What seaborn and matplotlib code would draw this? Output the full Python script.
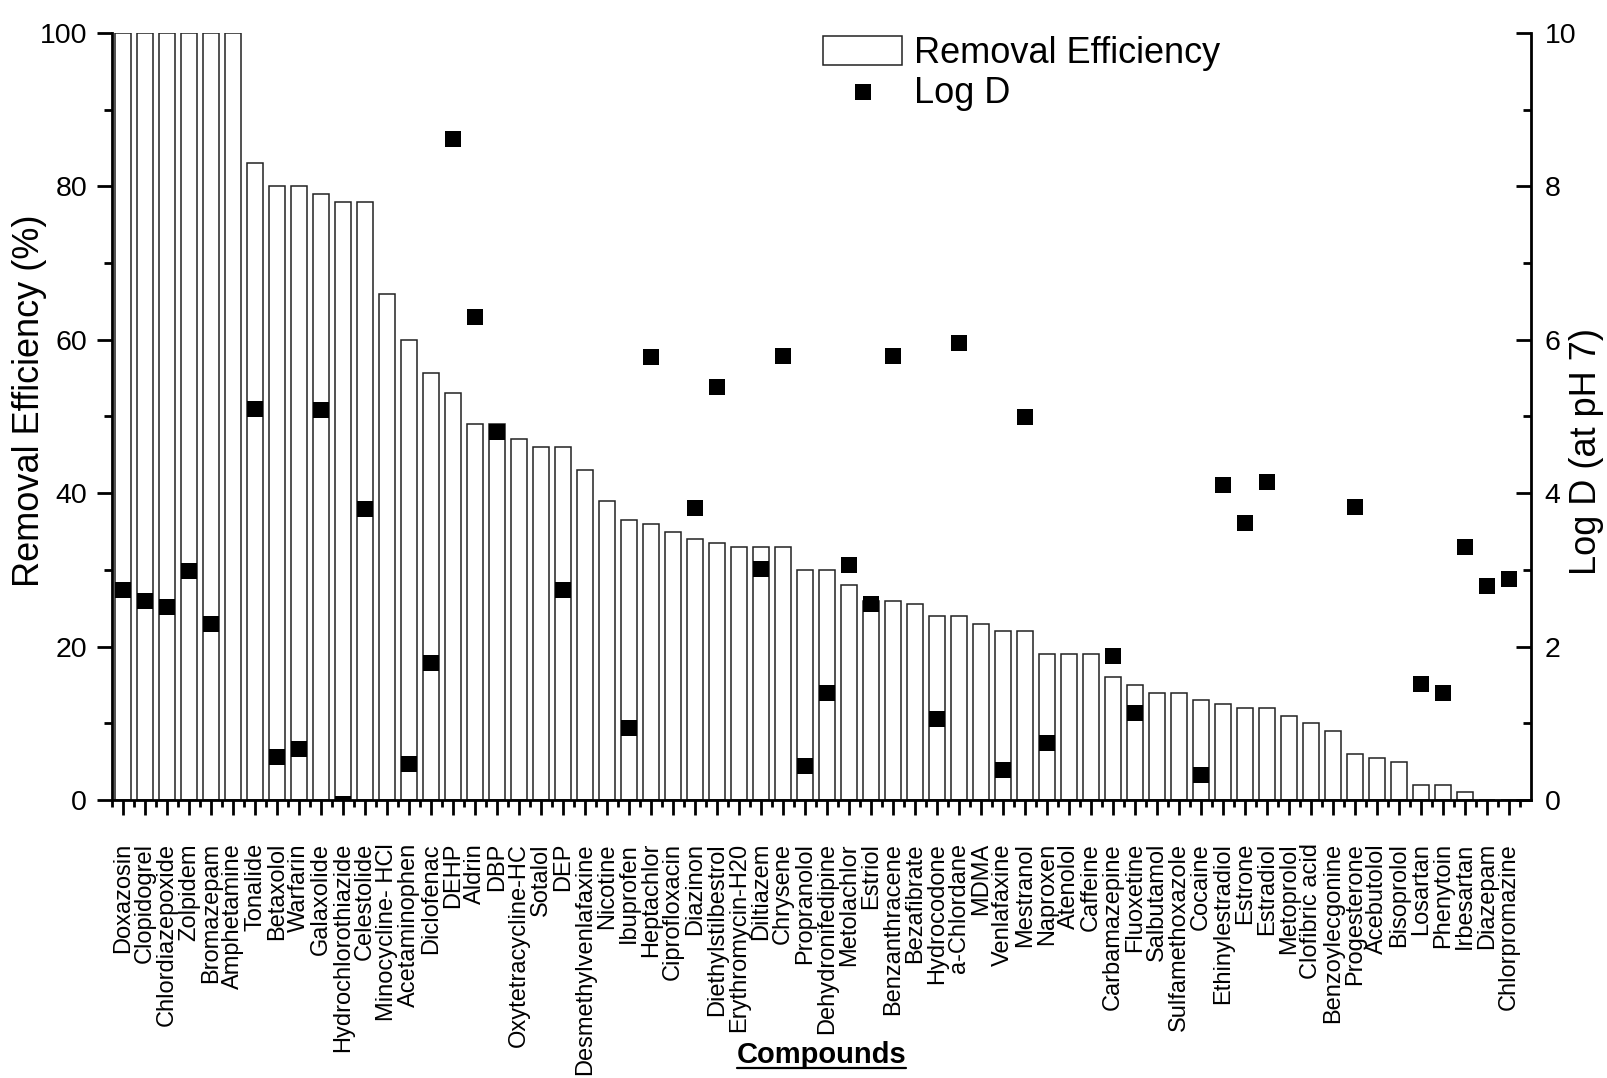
import numpy as np
import pandas as pd
import matplotlib
matplotlib.use("Agg")
import matplotlib.pyplot as plt
from matplotlib.ticker import MultipleLocator, FixedLocator, FixedFormatter
from matplotlib.lines import Line2D
import seaborn as sns

# ---- data ----
compounds = [
    'Doxazosin', 'Clopidogrel', 'Chlordiazepoxide', 'Zolpidem', 'Bromazepam',
    'Amphetamine', 'Tonalide', 'Betaxolol', 'Warfarin', 'Galaxolide',
    'Hydrochlorothiazide', 'Celestolide', 'Minocycline- HCl', 'Acetaminophen',
    'Diclofenac', 'DEHP', 'Aldrin', 'DBP', 'Oxytetracycline-HC', 'Sotalol',
    'DEP', 'Desmethylvenlafaxine', 'Nicotine', 'Ibuprofen', 'Heptachlor',
    'Ciprofloxacin', 'Diazinon', 'Diethylstilbestrol', 'Erythromycin-H20',
    'Diltiazem', 'Chrysene', 'Propranolol', 'Dehydronifedipine', 'Metolachlor',
    'Estriol', 'Benzanthracene', 'Bezafibrate', 'Hydrocodone', 'a-Chlordane',
    'MDMA', 'Venlafaxine', 'Mestranol', 'Naproxen', 'Atenolol', 'Caffeine',
    'Carbamazepine', 'Fluoxetine', 'Salbutamol', 'Sulfamethoxazole', 'Cocaine',
    'Ethinylestradiol', 'Estrone', 'Estradiol', 'Metoprolol', 'Clofibric acid',
    'Benzoylecgonine', 'Progesterone', 'Acebutolol', 'Bisoprolol', 'Losartan',
    'Phenytoin', 'Irbesartan', 'Diazepam', 'Chlorpromazine',
]

removal_pct = [
    100, 100, 100, 100, 100, 100, 83, 80, 80, 79,
    78, 78, 66, 60, 55.7, 53, 49, 49, 47, 46,
    46, 43, 39, 36.5, 36, 35, 34, 33.5, 33, 33,
    33, 30, 30, 28, 26, 26, 25.5, 24, 24, 23,
    22, 22, 19, 19, 19, 16, 15, 14, 14, 13,
    12.5, 12, 12, 11, 10, 9, 6, 5.5, 5, 2,
    2, 1, 0, 0,
]

nan = np.nan
log_d = [
    2.74, 2.60, 2.51, 2.98, 2.30, nan, 5.10, 0.56, 0.67, 5.08,
    -0.05, 3.79, nan, 0.47, 1.78, 8.62, 6.30, 4.80, nan, nan,
    2.74, nan, nan, 0.94, 5.78, nan, 3.81, 5.39, nan, 3.01,
    5.79, 0.44, 1.40, 3.06, 2.55, 5.79, nan, 1.06, 5.96, nan,
    0.39, 4.99, 0.74, nan, nan, 1.88, 1.14, nan, nan, 0.32,
    4.11, 3.61, 4.15, nan, nan, nan, 3.82, nan, nan, 1.51,
    1.40, 3.30, 2.79, 2.88,
]

df = pd.DataFrame({'compound': compounds, 'removal': removal_pct, 'log_d': log_d})

sns.set_theme(style="ticks")
plt.rcParams['font.family'] = ['Liberation Sans', 'DejaVu Sans']
for key in ['text.color', 'axes.labelcolor', 'xtick.color', 'ytick.color', 'axes.edgecolor']:
    plt.rcParams[key] = 'black'

fig, ax = plt.subplots(figsize=(16.08, 10.78), dpi=100)
fig.subplots_adjust(left=0.0697, right=0.9521, bottom=0.2579, top=0.9694)

# bars: removal efficiency
sns.barplot(data=df, x='compound', y='removal', order=compounds, color='white',
            saturation=1, edgecolor='#222222', linewidth=1.1, width=0.76,
            errorbar=None, label='Removal Efficiency', ax=ax)

# squares: log D on the right axis
ax2 = ax.twinx()
sns.scatterplot(data=df, x='compound', y='log_d', marker='s', s=117, color='black',
                edgecolor='black', linewidth=0, label='Log D', legend=False, ax=ax2)

for a in (ax, ax2):
    if a.get_legend() is not None:
        a.get_legend().remove()

n = len(compounds)
ax.set_xlim(-0.5, 64.0)
ax.set_ylim(0, 100)
ax2.set_ylim(0, 10)

ax.xaxis.set_major_locator(FixedLocator(np.arange(n)))
ax.xaxis.set_major_formatter(FixedFormatter(compounds))
ax.xaxis.set_minor_locator(FixedLocator(np.arange(n + 1) - 0.5))
ax.yaxis.set_major_locator(MultipleLocator(20))
ax.yaxis.set_minor_locator(MultipleLocator(10))
ax2.yaxis.set_major_locator(MultipleLocator(2))
ax2.yaxis.set_minor_locator(MultipleLocator(1))

ax.tick_params(axis='x', which='major', direction='out', length=11, width=2,
               pad=20, labelsize=17, labelrotation=90, top=False)
ax.tick_params(axis='x', which='minor', direction='out', length=5, width=2, top=False)
ax.tick_params(axis='y', which='major', direction='out', length=11, width=2,
               pad=7, labelsize=20.5, right=False)
ax.tick_params(axis='y', which='minor', direction='out', length=5.5, width=2, right=False)
ax2.tick_params(axis='y', which='major', direction='in', length=11, width=2,
                pad=10, labelsize=20.5)
ax2.tick_params(axis='y', which='minor', direction='in', length=5.5, width=2)

ax.spines['top'].set_visible(False)
ax.spines['right'].set_visible(False)
for side in ['top', 'left', 'bottom']:
    ax2.spines[side].set_visible(False)
ax.spines['left'].set_linewidth(2)
ax.spines['bottom'].set_linewidth(2)
ax2.spines['right'].set_linewidth(2)

# axis titles
ax.set_ylabel('Removal Efficiency (%)', fontsize=26)
ax.yaxis.label.set_va('center')
ax.yaxis.set_label_coords(-0.0585, 0.52)
ax2.set_ylabel('Log D (at pH 7)', fontsize=26)
ax2.yaxis.label.set_va('center')
ax2.yaxis.set_label_coords(1.0388, 0.455)
ax.set_xlabel('Compounds', fontsize=21, fontweight='bold')
ax.xaxis.label.set_va('baseline')
ax.xaxis.set_label_coords(0.5, -0.343)

# legend
h1, l1 = ax.get_legend_handles_labels()
h2, l2 = ax2.get_legend_handles_labels()
ax2.legend([h1[0], h2[0]], [l1[0], l2[0]], loc='upper left',
           bbox_to_anchor=(823 / 1608, 0.967), bbox_transform=fig.transFigure,
           frameon=False, fontsize=26, handlelength=2.19, handleheight=0.86,
           handletextpad=0.33, labelspacing=0.15, borderpad=0, borderaxespad=0,
           scatterpoints=1)

# underline for the x title
fig.canvas.draw()
lab = ax.xaxis.label
bb = lab.get_window_extent()
base_y = ax.transAxes.transform((0.5, -0.343))[1]
to_fig = fig.transFigure.inverted()
x0, y0 = to_fig.transform((bb.x0, base_y - 5))
x1, _ = to_fig.transform((bb.x1, base_y - 5))
fig.add_artist(Line2D([x0, x1], [y0, y0], transform=fig.transFigure, color='black', linewidth=1.6))

fig.savefig('out.png', dpi=100)
